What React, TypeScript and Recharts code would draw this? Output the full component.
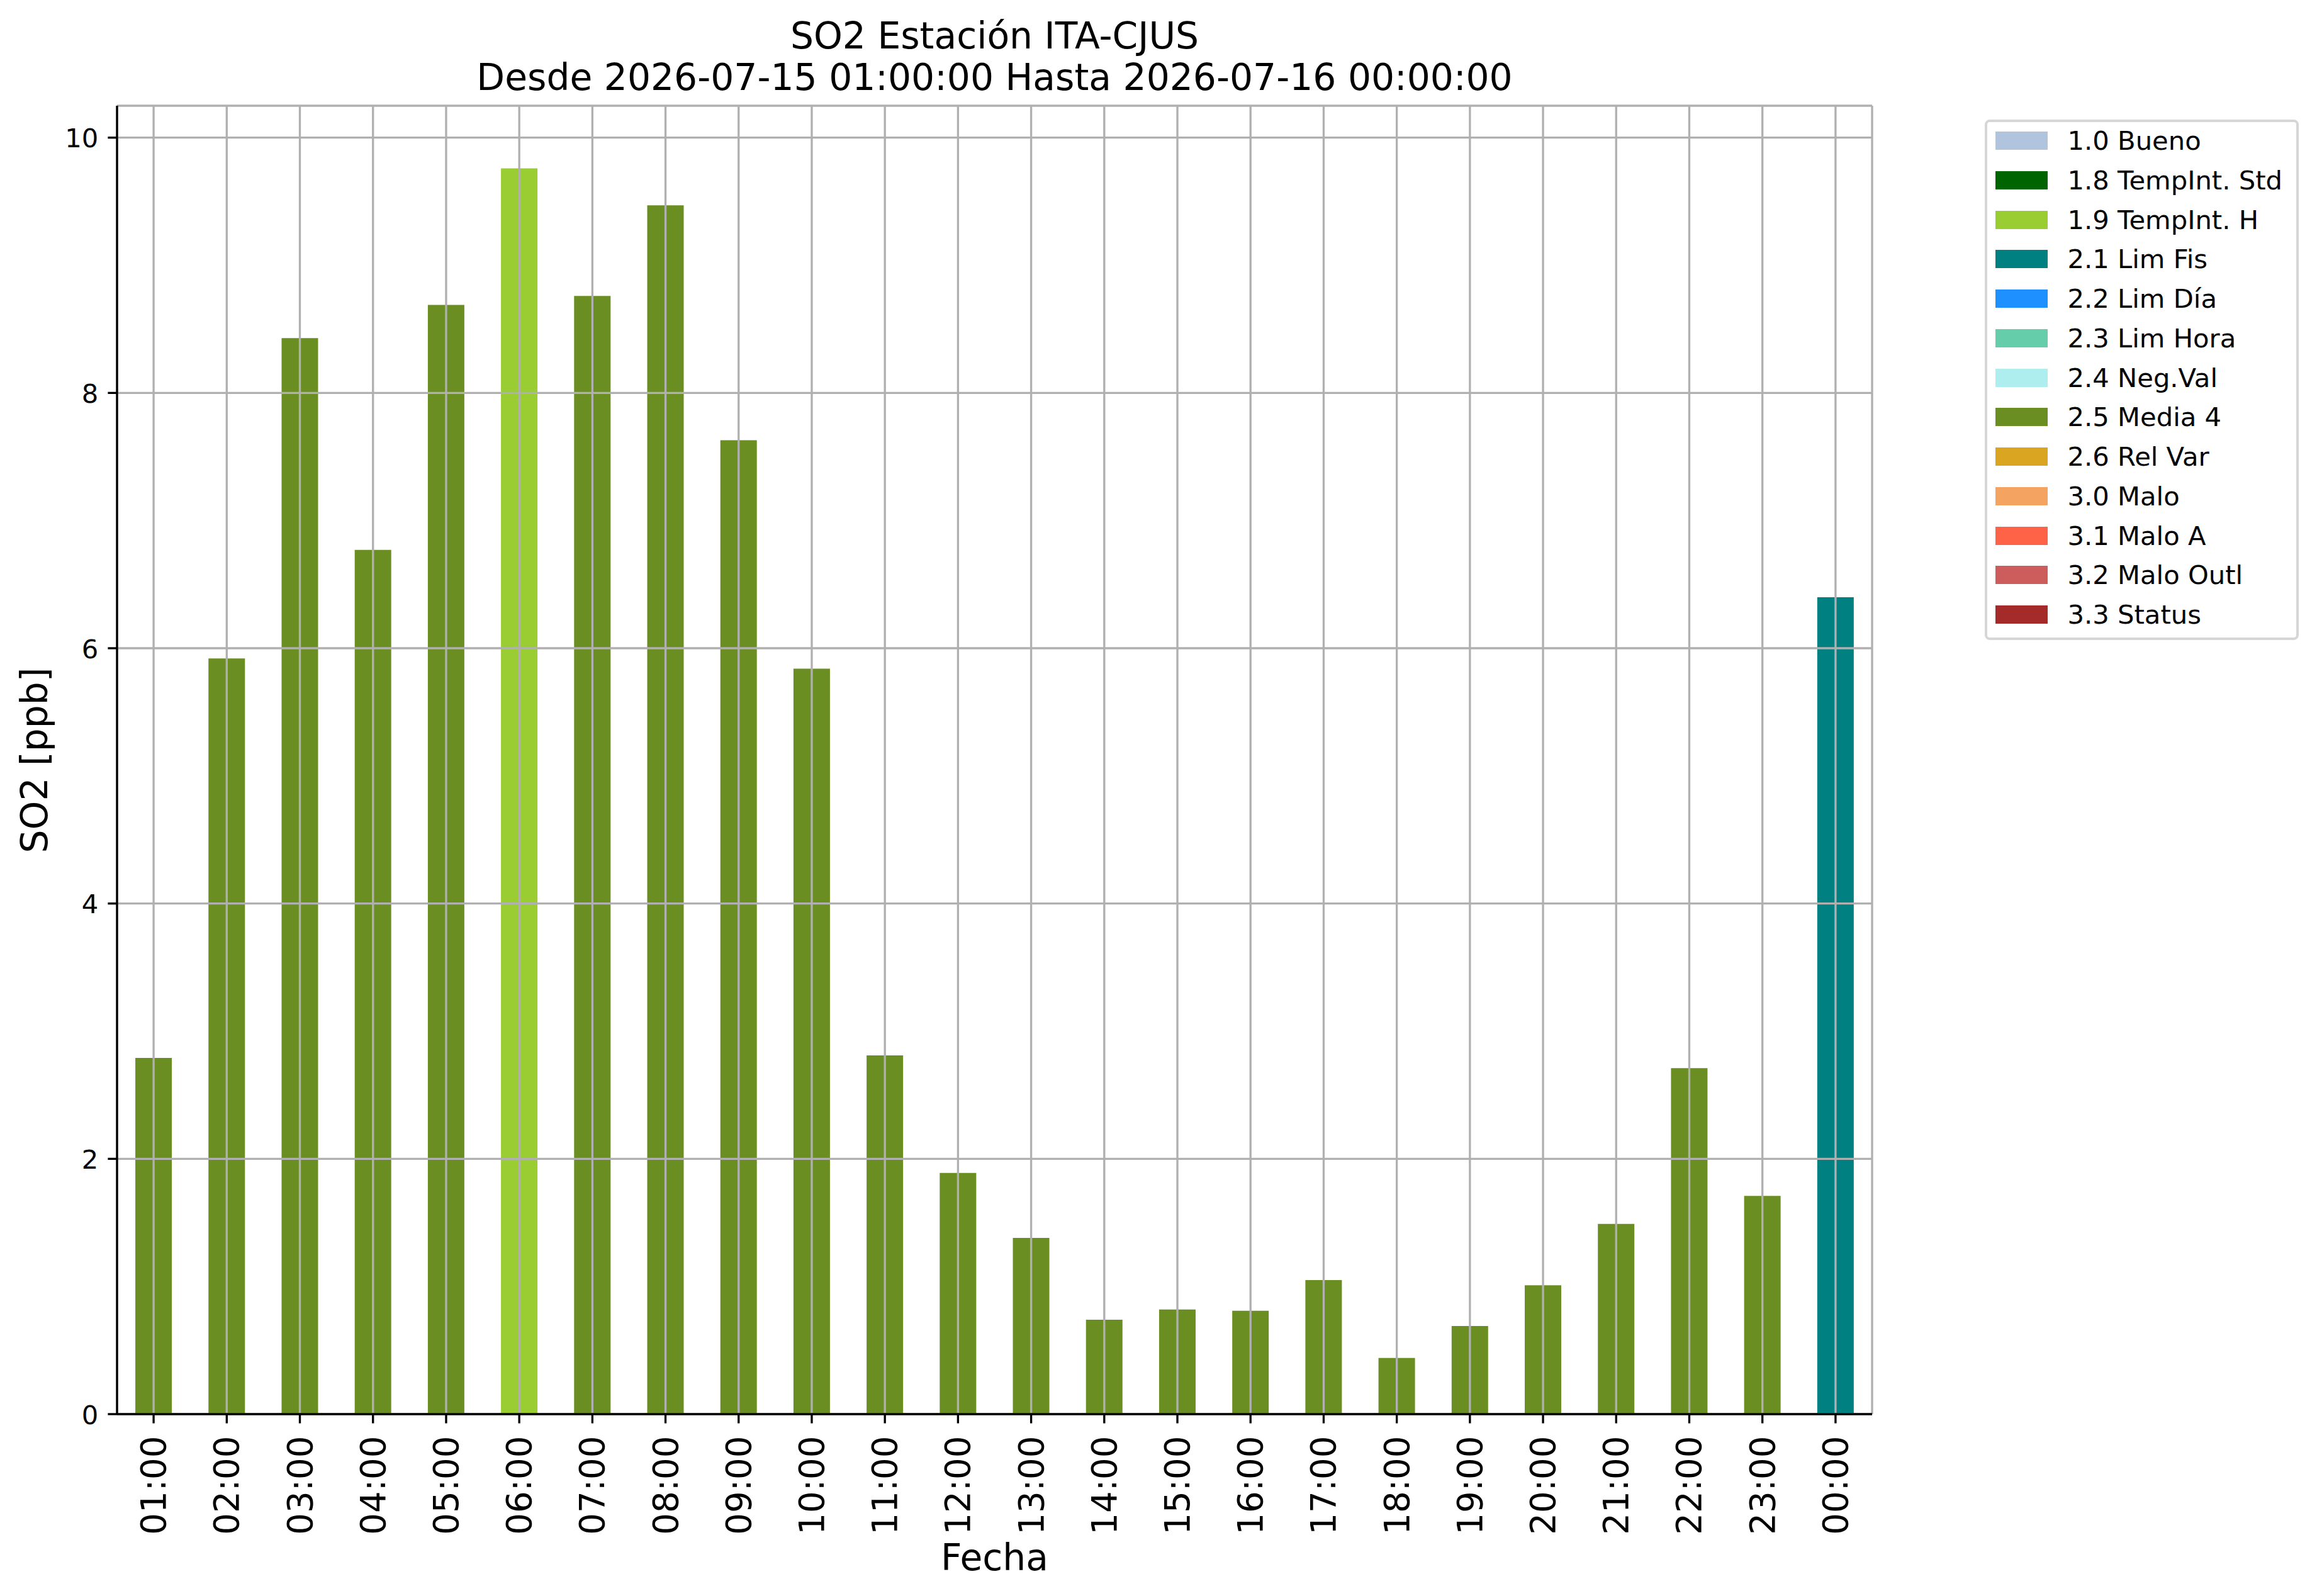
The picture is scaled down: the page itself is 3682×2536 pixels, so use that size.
import React from 'react';
import { BarChart, Bar, XAxis, YAxis, CartesianGrid, Legend } from 'recharts';

const hours = [
  '01:00', '02:00', '03:00', '04:00', '05:00', '06:00', '07:00', '08:00',
  '09:00', '10:00', '11:00', '12:00', '13:00', '14:00', '15:00', '16:00',
  '17:00', '18:00', '19:00', '20:00', '21:00', '22:00', '23:00', '00:00',
];
const so2Values = [
  2.79, 5.92, 8.43, 6.77, 8.69, 9.76, 8.76, 9.47,
  7.63, 5.84, 2.81, 1.89, 1.38, 0.74, 0.82, 0.81,
  1.05, 0.44, 0.69, 1.01, 1.49, 2.71, 1.71, 6.40,
];
const hourFlags = [
  '2.5', '2.5', '2.5', '2.5', '2.5', '1.9', '2.5', '2.5',
  '2.5', '2.5', '2.5', '2.5', '2.5', '2.5', '2.5', '2.5',
  '2.5', '2.5', '2.5', '2.5', '2.5', '2.5', '2.5', '2.1',
];
const flagCodes = ['1.0', '1.8', '1.9', '2.1', '2.2', '2.3', '2.4', '2.5', '2.6', '3.0', '3.1', '3.2', '3.3'];
const flagNames = [
  '1.0 Bueno', '1.8 TempInt. Std', '1.9 TempInt. H', '2.1 Lim Fis', '2.2 Lim Día',
  '2.3 Lim Hora', '2.4 Neg.Val', '2.5 Media 4', '2.6 Rel Var', '3.0 Malo',
  '3.1 Malo A', '3.2 Malo Outl', '3.3 Status',
];
const flagColors = [
  '#b0c4de', '#006400', '#9acd32', '#008080', '#1e90ff',
  '#66cdaa', '#afeeee', '#6b8e23', '#daa520', '#f4a460',
  '#ff6347', '#cd5c5c', '#a52a2a',
];
const yTicks = [0, 2, 4, 6, 8, 10];
const yDomain = [0, 10.25];

const titleLine1 = 'SO2 Estación ITA-CJUS';
const titleLine2 = 'Desde 2026-07-15 01:00:00 Hasta 2026-07-16 00:00:00';
const xLabel = 'Fecha';
const yLabel = 'SO2 [ppb]';

const flagKey = (code: string) => 'f' + code.replace('.', '_');

const data = hours.map((h, i) => ({ hour: h, [flagKey(hourFlags[i])]: so2Values[i] }));

const FONT = '"DejaVu Sans", sans-serif';
const LW = 3.33;

const XTick = (props: any) => {
  const { x, y, payload } = props;
  return (
    <g transform={`translate(${x},${y})`}>
      <text transform="rotate(-90)" x={0} y={19} textAnchor="end" fontSize={54.5} fontFamily={FONT} fill="#000">
        {payload.value}
      </text>
    </g>
  );
};

const YTick = (props: any) => {
  const { x, y, payload } = props;
  return (
    <text x={x} y={y + 15.5} textAnchor="end" fontSize={41.7} fontFamily={FONT} fill="#000">
      {payload.value}
    </text>
  );
};

const LegendBox = (props: any) => {
  const payload = [...(props.payload || [])].sort(
    (a: any, b: any) => flagNames.indexOf(a.value) - flagNames.indexOf(b.value)
  );
  return (
    <div
      style={{
        position: 'relative',
        width: 499,
        height: 827,
        boxSizing: 'border-box',
        border: '4px solid #d6d6d6',
        borderRadius: 8,
        background: '#fff',
        fontFamily: FONT,
      }}
    >
      {payload.map((entry: any, i: number) => {
        const cy = 33.5 + i * 62.76 - 4;
        return (
          <React.Fragment key={entry.value}>
            <div
              style={{
                position: 'absolute',
                left: 12.5,
                top: cy - 14.5,
                width: 83.5,
                height: 29,
                background: entry.color,
              }}
            />
            <div
              style={{
                position: 'absolute',
                left: 127.5,
                top: cy - 23.5,
                height: 48.5,
                lineHeight: '48.5px',
                fontSize: 41.7,
                whiteSpace: 'nowrap',
                color: '#000',
              }}
            >
              {entry.value}
            </div>
          </React.Fragment>
        );
      })}
    </div>
  );
};

export default function App() {
  return (
    <div style={{ position: 'absolute', left: 0, top: 0, width: 3682, height: 2536, background: '#fff', fontFamily: FONT }}>
      <BarChart
        width={3682}
        height={2536}
        data={data}
        margin={{ top: 168, right: 707, bottom: 0, left: 0 }}
        barCategoryGap="25%"
      >
        {flagCodes.map((code, i) => (
          <Bar
            key={code}
            dataKey={flagKey(code)}
            name={flagNames[i]}
            stackId="s"
            fill={flagColors[i]}
            isAnimationActive={false}
          />
        ))}
        <CartesianGrid stroke="#b0b0b0" strokeWidth={LW} zIndex={400} />
        <XAxis
          dataKey="hour"
          height={289}
          interval={0}
          tick={<XTick />}
          tickSize={14.6}
          tickMargin={20}
          tickLine={{ stroke: '#000', strokeWidth: LW }}
          axisLine={{ stroke: '#000', strokeWidth: LW }}
        />
        <XAxis
          xAxisId="top"
          dataKey="hour"
          orientation="top"
          height={0}
          tick={false}
          tickLine={false}
          axisLine={{ stroke: '#000', strokeWidth: LW }}
        />
        <YAxis
          type="number"
          domain={yDomain}
          ticks={yTicks}
          width={186}
          tick={<YTick />}
          tickSize={14.6}
          tickMargin={15}
          tickLine={{ stroke: '#000', strokeWidth: LW }}
          axisLine={{ stroke: '#000', strokeWidth: LW }}
          allowDataOverflow
        />
        <YAxis
          yAxisId="right"
          type="number"
          orientation="right"
          domain={yDomain}
          width={0}
          tick={false}
          tickLine={false}
          axisLine={{ stroke: '#000', strokeWidth: LW }}
        />
        <Legend
          layout="vertical"
          align="center"
          verticalAlign="middle"
          content={<LegendBox />}
          wrapperStyle={{ left: 3154, top: 190, width: 499, height: 827 }}
        />
      </BarChart>
      <svg
        width={3682}
        height={2536}
        style={{ position: 'absolute', left: 0, top: 0, pointerEvents: 'none' }}
      >
        <text x={1580.5} y={77.3} textAnchor="middle" fontSize={58.3} fontFamily={FONT} fill="#000">
          {titleLine1}
        </text>
        <text x={1580.5} y={143.3} textAnchor="middle" fontSize={58.3} fontFamily={FONT} fill="#000">
          {titleLine2}
        </text>
        <text x={1580.5} y={2495} textAnchor="middle" fontSize={58.3} fontFamily={FONT} fill="#000">
          {xLabel}
        </text>
        <text
          transform="translate(75,1208) rotate(-90)"
          x={0}
          y={0}
          textAnchor="middle"
          fontSize={58.3}
          fontFamily={FONT}
          fill="#000"
        >
          {yLabel}
        </text>
      </svg>
    </div>
  );
}
